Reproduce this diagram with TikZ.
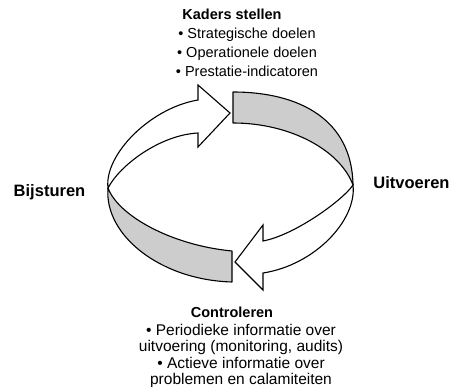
\documentclass[tikz,border=0pt]{standalone}
\usepackage{fontspec}
\setmainfont{Liberation Sans}
\usetikzlibrary{positioning}
\definecolor{bandgray}{RGB}{205,205,205}

\begin{document}
\begin{tikzpicture}[x=1pt, y=-1pt,
    band/.style={draw=black, line width=1.1pt, fill=bandgray, line join=round},
    arrowshape/.style={draw=black, line width=1.1pt, fill=white, line join=miter},
    heading/.style={font=\fontsize{14.5}{17}\selectfont\bfseries, inner sep=0pt},
    sidelabel/.style={font=\fontsize{16.5}{19}\selectfont\bfseries, inner sep=0pt},
    bullets/.style={font=\fontsize{14.5}{19}\selectfont, align=center, inner sep=0pt}
  ]
  \useasboundingbox (0,0) rectangle (454,387);

  % twist points of the band
  \coordinate (twistL) at (108,188);
  \coordinate (twistR) at (353,185);

  % back side of the band (shaded)
  \draw[band] (233,92) .. controls (300,92) and (352,120) .. (twistR)
    .. controls (340,150) and (290,123) .. (233,123) -- cycle;
  \draw[band] (232,251) .. controls (170,245) and (118,215) .. (twistL)
    .. controls (104,235) and (160,280) .. (232,282) -- cycle;

  % front side of the band (the two arrows)
  \draw[arrowshape] (twistL) .. controls (104,155) and (150,108) .. (198,100)
    -- (198,85) -- (230,113) -- (198,147) -- (198,133)
    .. controls (160,135) and (120,165) .. (twistL) -- cycle;
  \draw[arrowshape] (twistR) .. controls (343,200) and (295,235) .. (263,241)
    -- (263,225) -- (235,262) -- (263,290) -- (263,273)
    .. controls (315,265) and (357,220) .. (twistR) -- cycle;

  % labels
  \node[heading, anchor=base] (kaders) at (232,20) {Kaders stellen};
  \node[bullets, anchor=north] (kadersList) at (247,27.5)
    {• Strategische doelen\\• Operationele doelen\\• Prestatie-indicatoren};

  \node[sidelabel] (bijsturen) at (49.5,192) {Bijsturen};
  \node[sidelabel] (uitvoeren) at (411.5,182.5) {Uitvoeren};

  \node[heading, anchor=base] (controleren) at (232,317) {Controleren};
  \node[bullets, anchor=north, font=\fontsize{15.5}{16.5}\selectfont] (controlerenList) at (241,324)
    {• Periodieke informatie over\\uitvoering (monitoring, audits)\\• Actieve informatie over\\problemen en calamiteiten};
\end{tikzpicture}
\end{document}
